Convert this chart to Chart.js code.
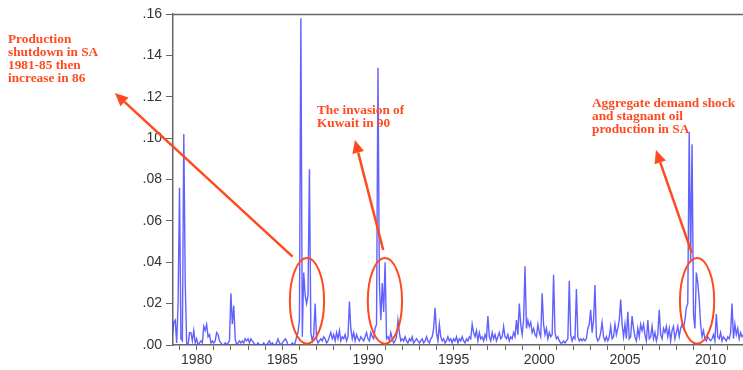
<!DOCTYPE html>
<html><head><meta charset="utf-8">
<script src="https://cdn.jsdelivr.net/npm/chart.js@4.4.1/dist/chart.umd.min.js"></script>
<style>html,body{margin:0;padding:0;background:#fff}#wrap{width:743px;height:370px}</style>
</head><body><div id="wrap"><canvas id="c" width="743" height="370"></canvas></div>
<script>
// Monthly series starting Aug 1978
const startYear = 1978;
const startMonth = 8;
const v1978 = [0.004,0.011,0.012,0.001,0.020];
const v1979 = [0.076,0.003,0.002,0.102,0.030,0.001,0.000,0.006,0.006,0.002,0.007,0.001];
const v1980 = [0.003,0.000,0.001,0.002,0.001,0.009,0.007,0.010,0.004,0.005,0.001,0.002];
const v1981 = [0.001,0.002,0.006,0.005,0.002,0.001,0.000,0.000,0.001,0.000,0.001,0.002];
const v1982 = [0.025,0.010,0.019,0.003,0.000,0.001,0.002,0.001,0.002,0.001,0.003,0.002];
const v1983 = [0.003,0.001,0.003,0.002,0.001,0.000,0.000,0.001,0.000,0.000,0.000,0.001];
const v1984 = [0.000,0.000,0.001,0.002,0.000,0.001,0.000,0.000,0.001,0.003,0.001,0.000];
const v1985 = [0.001,0.002,0.003,0.002,0.000,0.000,0.000,0.001,0.000,0.001,0.004,0.006];
const v1986 = [0.012,0.158,0.004,0.035,0.024,0.020,0.024,0.085,0.006,0.002,0.005,0.020];
const v1987 = [0.003,0.001,0.002,0.003,0.002,0.004,0.003,0.001,0.002,0.004,0.006,0.003];
const v1988 = [0.005,0.002,0.006,0.003,0.007,0.002,0.004,0.003,0.005,0.002,0.004,0.021];
const v1989 = [0.008,0.003,0.006,0.002,0.005,0.003,0.002,0.004,0.003,0.002,0.004,0.006];
const v1990 = [0.003,0.002,0.006,0.004,0.003,0.008,0.010,0.134,0.030,0.012,0.030,0.016];
const v1991 = [0.040,0.003,0.004,0.002,0.006,0.003,0.001,0.002,0.004,0.012,0.006,0.002];
const v1992 = [0.003,0.002,0.004,0.002,0.001,0.003,0.002,0.004,0.001,0.002,0.003,0.002];
const v1993 = [0.001,0.002,0.003,0.001,0.002,0.004,0.002,0.001,0.003,0.004,0.008,0.018];
const v1994 = [0.006,0.002,0.010,0.004,0.002,0.003,0.001,0.002,0.004,0.002,0.003,0.001];
const v1995 = [0.003,0.002,0.004,0.001,0.003,0.002,0.004,0.002,0.001,0.003,0.002,0.004];
const v1996 = [0.003,0.010,0.006,0.004,0.007,0.002,0.006,0.003,0.004,0.002,0.005,0.003];
const v1997 = [0.014,0.004,0.002,0.006,0.003,0.005,0.002,0.004,0.006,0.003,0.004,0.009];
const v1998 = [0.004,0.003,0.005,0.002,0.004,0.003,0.006,0.004,0.012,0.005,0.020,0.010];
const v1999 = [0.005,0.012,0.038,0.008,0.012,0.009,0.011,0.006,0.008,0.005,0.004,0.010];
const v2000 = [0.006,0.004,0.025,0.010,0.005,0.008,0.003,0.006,0.004,0.005,0.034,0.006];
const v2001 = [0.003,0.004,0.002,0.001,0.001,0.002,0.001,0.002,0.003,0.031,0.005,0.002];
const v2002 = [0.004,0.003,0.027,0.004,0.002,0.003,0.002,0.003,0.002,0.003,0.008,0.010];
const v2003 = [0.017,0.006,0.012,0.029,0.004,0.002,0.003,0.006,0.011,0.004,0.002,0.004];
const v2004 = [0.002,0.004,0.009,0.003,0.004,0.010,0.005,0.008,0.012,0.022,0.010,0.004];
const v2005 = [0.010,0.003,0.016,0.003,0.004,0.014,0.008,0.004,0.002,0.008,0.004,0.010];
const v2006 = [0.007,0.010,0.005,0.002,0.012,0.003,0.004,0.009,0.003,0.006,0.002,0.005];
const v2007 = [0.017,0.005,0.003,0.008,0.006,0.009,0.004,0.008,0.002,0.007,0.009,0.003];
const v2008 = [0.006,0.009,0.004,0.008,0.010,0.008,0.012,0.018,0.020,0.103,0.040,0.097];
const v2009 = [0.015,0.008,0.035,0.030,0.022,0.010,0.004,0.007,0.003,0.002,0.004,0.003];
const v2010 = [0.002,0.003,0.005,0.002,0.015,0.004,0.003,0.006,0.002,0.004,0.003,0.002];
const v2011 = [0.004,0.003,0.006,0.020,0.003,0.010,0.005,0.008,0.003,0.006,0.004,0.005];
const values = [].concat(v1978,v1979,v1980,v1981,v1982,v1983,v1984,v1985,v1986,v1987,v1988,v1989,
  v1990,v1991,v1992,v1993,v1994,v1995,v1996,v1997,v1998,v1999,v2000,v2001,v2002,v2003,v2004,
  v2005,v2006,v2007,v2008,v2009,v2010,v2011);
const yTicks = [0,0.02,0.04,0.06,0.08,0.10,0.12,0.14,0.16];
const xLabelYears = [1980,1985,1990,1995,2000,2005,2010];

// Annotations (anchored in data units)
const noteColor = '#ff4a1f';
const notes = [
  {lines:['Production','shutdown in SA','1981-85 then','increase in 86'], px:8, py:43},
  {lines:['The invasion of','Kuwait in 90'], px:317, py:114},
  {lines:['Aggregate demand shock','and stagnant oil','production in SA'], px:592, py:107}
];
const ellipses = [
  {x:1986.44, y:0.0213, rx:1.0, ry:0.0207},
  {x:1990.99, y:0.0213, rx:1.0, ry:0.0207},
  {x:2009.21, y:0.0213, rx:1.0, ry:0.0207}
];
const arrows = [
  {x1:1985.6, y1:0.0427, x2:1975.23, y2:0.1218},
  {x1:1990.89, y1:0.0459, x2:1989.24, y2:0.0991},
  {x1:2008.90, y1:0.0445, x2:2006.81, y2:0.0942}
];

const pts = values.map((v,i)=>({x: startYear + (startMonth-1+i)/12, y: v}));

const annot = {
  id:'annot',
  afterDraw(chart){
    const ctx = chart.ctx, xs = chart.scales.x, ys = chart.scales.y, ca = chart.chartArea;
    ctx.save();
    ctx.strokeStyle = '#666'; ctx.lineWidth = 1.5;
    ctx.beginPath(); ctx.moveTo(ca.left, ca.top+0.5); ctx.lineTo(ca.right, ca.top+0.5); ctx.stroke();
    ctx.strokeStyle = noteColor; ctx.fillStyle = noteColor;
    ctx.lineWidth = 2;
    ellipses.forEach(e=>{
      const cx = xs.getPixelForValue(e.x), cy = ys.getPixelForValue(e.y);
      const rx = Math.abs(xs.getPixelForValue(e.x+e.rx)-cx);
      const ry = Math.abs(ys.getPixelForValue(e.y+e.ry)-cy);
      ctx.beginPath(); ctx.ellipse(cx,cy,rx,ry,0,0,Math.PI*2); ctx.stroke();
    });
    ctx.lineWidth = 2.5;
    arrows.forEach(a=>{
      const x1 = xs.getPixelForValue(a.x1), y1 = ys.getPixelForValue(a.y1);
      const x2 = xs.getPixelForValue(a.x2), y2 = ys.getPixelForValue(a.y2);
      const ang = Math.atan2(y2-y1, x2-x1);
      const hl = 13, hw = 6;
      const bx = x2 - hl*Math.cos(ang), by = y2 - hl*Math.sin(ang);
      ctx.beginPath(); ctx.moveTo(x1,y1); ctx.lineTo(bx,by); ctx.stroke();
      ctx.beginPath();
      ctx.moveTo(x2,y2);
      ctx.lineTo(bx + hw*Math.sin(ang), by - hw*Math.cos(ang));
      ctx.lineTo(bx - hw*Math.sin(ang), by + hw*Math.cos(ang));
      ctx.closePath(); ctx.fill();
    });
    ctx.font = 'bold 13.3px "Liberation Serif", "Times New Roman", serif';
    ctx.textBaseline = 'alphabetic'; ctx.textAlign = 'left';
    notes.forEach(n=>{
      n.lines.forEach((t,i)=> ctx.fillText(t, n.px, n.py + i*13));
    });
    ctx.restore();
  }
};

new Chart(document.getElementById('c'), {
  type:'line',
  data:{datasets:[{data:pts, borderColor:'rgba(75,75,255,0.88)', borderWidth:1.4, pointRadius:0, tension:0, fill:false}]},
  options:{
    responsive:false, animation:false, events:[],
    layout:{padding:{top:14,right:0,left:0,bottom:0}},
    plugins:{legend:{display:false}, tooltip:{enabled:false}},
    scales:{
      x:{type:'linear', min:1978.62, max:2011.89,
        afterFit(s){ s.height = 25; },
        afterBuildTicks(s){ s.ticks = []; for(let y=1979;y<=2011;y++) s.ticks.push({value:y}); },
        ticks:{autoSkip:false, maxRotation:0, padding:2, color:'#333',
          font:{family:'"Liberation Sans", Arial, sans-serif', size:14},
          callback:(v)=> xLabelYears.includes(v) ? String(v) : ''},
        grid:{display:true, drawOnChartArea:false, drawTicks:true, tickLength:5, color:'#666', lineWidth:1},
        border:{display:true, color:'#666', width:1.5}
      },
      y:{min:0, max:0.16,
        afterFit(s){ s.width = 173; },
        afterBuildTicks(s){ s.ticks = yTicks.map(v=>({value:v})); },
        ticks:{padding:4, color:'#333',
          font:{family:'"Liberation Sans", Arial, sans-serif', size:14},
          callback:(v)=> v.toFixed(2).replace(/^0/,'')},
        grid:{display:true, drawOnChartArea:false, drawTicks:true, tickLength:7, color:'#666', lineWidth:1},
        border:{display:true, color:'#666', width:1.5}
      }
    }
  },
  plugins:[annot]
});
</script></body></html>
